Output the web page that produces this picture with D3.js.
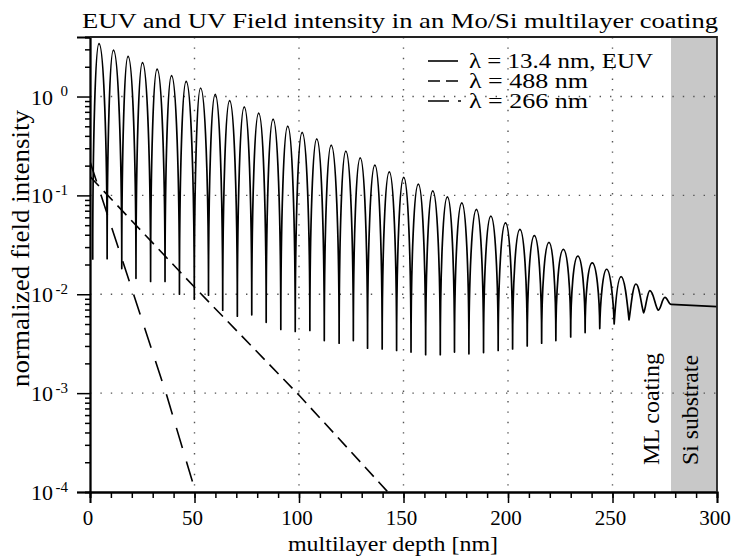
<!DOCTYPE html>
<html>
<head>
<meta charset="utf-8">
<script src="https://cdn.jsdelivr.net/npm/d3@7"></script>
<style>
  body { margin: 0; background: #fff; }
  svg text { font-family: "Liberation Serif", "Times New Roman", serif; fill: #000; }
</style>
</head>
<body>
<div id="chart"></div>
<script>
// EUV (13.4 nm) standing wave: maxima and minima
const peakDepth = [4.3, 11.2, 18.2, 25.1, 32.1, 39.0, 46.0, 52.9, 59.9, 66.8,
  73.8, 80.7, 87.6, 94.6, 101.5, 108.5, 115.4, 122.4, 129.3, 136.3,
  143.2, 150.1, 157.1, 164.0, 171.0, 177.9, 184.9, 191.8, 198.8, 205.7,
  212.6, 219.6, 226.5, 233.4, 240.3, 247.2, 254.1, 261.2, 267.9, 275.1];
const peakIntensity = [3.43, 2.94, 2.55, 2.20, 1.89, 1.63, 1.42, 1.22, 1.05, 0.91,
  0.785, 0.678, 0.590, 0.501, 0.433, 0.373, 0.322, 0.280, 0.240, 0.202,
  0.173, 0.152, 0.130, 0.111, 0.0968, 0.0841, 0.0723, 0.0618, 0.0528, 0.0454,
  0.0391, 0.0335, 0.0285, 0.0243, 0.0208, 0.0179, 0.0151, 0.0127, 0.0109, 0.0093];
const troughDepth = [1.3, 8.2, 15.2, 22.0, 29.0, 35.9, 42.8, 49.9, 56.7, 63.5,
  70.5, 77.4, 84.3, 91.3, 98.2, 105.2, 112.1, 119.2, 126.0, 132.8,
  139.8, 146.7, 153.6, 160.6, 167.6, 174.4, 181.3, 188.3, 195.3, 202.2,
  209.2, 216.1, 222.9, 230.0, 236.9, 243.9, 250.8, 257.9, 264.9, 271.9];
const troughIntensity = [0.0224, 0.0229, 0.0182, 0.0145, 0.0135, 0.0135, 0.0100, 0.0089, 0.0098, 0.0069,
  0.0060, 0.0062, 0.0052, 0.0044, 0.0042, 0.0043, 0.0034, 0.0032, 0.0034, 0.00285,
  0.0028, 0.0027, 0.0026, 0.00245, 0.00245, 0.0026, 0.0025, 0.00257, 0.0027, 0.0028,
  0.0030, 0.0032, 0.0034, 0.0037, 0.0041, 0.0045, 0.0050, 0.0055, 0.0065, 0.0069];
// field inside the Si substrate
const substrateDepth = [278, 300];
const substrateIntensity = [0.0079, 0.0075];

// UV lines (straight in log scale)
const uv488Depth = [0, 50.5, 100.5, 142.5];
const uv488Intensity = [0.155, 0.0115, 0.00093, 0.0001];
const uv266Depth = [0, 19.9, 36.7, 50.5];
const uv266Intensity = [0.22, 0.0115, 0.00095, 0.0001];

const depthTicks = [0, 50, 100, 150, 200, 250, 300];
const depthMinorTicks = d3.range(0, 301, 10);
const intensityTicks = [1e-4, 1e-3, 1e-2, 1e-1, 1];
const intensityExponents = ['-4', '-3', '-2', '-1', '0'];

const width = 731, height = 559;
const margin = {top: 37, right: 14, bottom: 67, left: 90};
const serif = '"Liberation Serif", "Times New Roman", serif';

const svg = d3.select('#chart')
  .append('svg')
  .attr('width', width)
  .attr('height', height)
  .attr('font-family', serif);

svg.append('rect').attr('width', width).attr('height', height).attr('fill', '#fff');

const x = d3.scaleLinear().domain([0, 300]).range([margin.left, width - margin.right]);
const y = d3.scaleLog().domain([1e-4, 4]).range([height - margin.bottom, margin.top]);

svg.append('clipPath').attr('id', 'plot')
  .append('rect')
  .attr('x', x(0)).attr('y', y(4))
  .attr('width', x(300) - x(0)).attr('height', y(1e-4) - y(4));

// Si substrate band
svg.append('rect')
  .attr('x', x(substrateDepth[0]))
  .attr('y', y(4))
  .attr('width', x(300) - x(substrateDepth[0]))
  .attr('height', y(1e-4) - y(4))
  .attr('fill', '#c8c8c8');

// dotted grid
const grid = svg.append('g')
  .attr('stroke', '#555')
  .attr('stroke-width', 1.4)
  .attr('stroke-dasharray', '1.4,9');
grid.selectAll('.vgrid')
  .data(depthTicks.slice(1, -1))
  .enter().append('line')
  .attr('x1', d => x(d)).attr('x2', d => x(d))
  .attr('y1', y(4)).attr('y2', y(1e-4));
grid.selectAll('.hgrid')
  .data(intensityTicks.slice(1))
  .enter().append('line')
  .attr('y1', d => y(d)).attr('y2', d => y(d))
  .attr('x1', x(0)).attr('x2', x(300));

// one half-arch between a minimum and a maximum, elliptical when the swing is large
function halfArch(path, x0, y0, x1, y1) {
  const amp = Math.abs(y1 - y0);
  const t = Math.max(0, Math.min(1, 1 - (amp - 10) / 60));
  const dx = x1 - x0, dy = y1 - y0;
  if (y1 < y0) { // going up to a peak
    path.bezierCurveTo(x0 + 0.4 * t * dx, y0 + 0.55 * (1 - t) * dy,
      x1 - (0.55 - 0.15 * t) * dx, y1, x1, y1);
  } else { // coming down to a minimum
    path.bezierCurveTo(x0 + (0.55 - 0.15 * t) * dx, y0,
      x1 - 0.4 * t * dx, y1 - 0.55 * (1 - t) * dy, x1, y1);
  }
}

const euv = d3.path();
euv.moveTo(x(troughDepth[0]), y(troughIntensity[0]));
peakDepth.forEach((d, k) => {
  const px = x(d), py = y(peakIntensity[k]);
  halfArch(euv, x(troughDepth[k]), y(troughIntensity[k]), px, py);
  const nd = k + 1 < troughDepth.length ? troughDepth[k + 1] : substrateDepth[0];
  const ni = k + 1 < troughIntensity.length ? troughIntensity[k + 1] : substrateIntensity[0];
  halfArch(euv, px, py, x(nd), y(ni));
});
euv.lineTo(x(substrateDepth[1]), y(substrateIntensity[1]));

const plot = svg.append('g').attr('clip-path', 'url(#plot)');
plot.append('path')
  .attr('d', euv.toString())
  .attr('fill', 'none')
  .attr('stroke', '#000')
  .attr('stroke-width', 1.7)
  .attr('stroke-linejoin', 'round');

const line = d3.line().x(d => x(d[0])).y(d => y(d[1]));
plot.append('path')
  .attr('d', line(d3.zip(uv488Depth, uv488Intensity)))
  .attr('fill', 'none').attr('stroke', '#000').attr('stroke-width', 1.6)
  .attr('stroke-dasharray', '13,7');
plot.append('path')
  .attr('d', line(d3.zip(uv266Depth, uv266Intensity)))
  .attr('fill', 'none').attr('stroke', '#000').attr('stroke-width', 1.6)
  .attr('stroke-dasharray', '21,14');

// axes
const xMinor = svg.append('g')
  .attr('transform', `translate(0,${y(1e-4)})`)
  .call(d3.axisBottom(x).tickValues(depthMinorTicks).tickSize(6).tickFormat(''));
const xAxis = svg.append('g')
  .attr('transform', `translate(0,${y(1e-4)})`)
  .call(d3.axisBottom(x).tickValues(depthTicks).tickSize(11).tickPadding(6).tickFormat(d3.format('d')));
xAxis.selectAll('text')
  .attr('font-size', 21)
  .attr('x', -2.5)
  .attr('dy', '0.74em');

const minorY = [];
intensityTicks.forEach(base => {
  for (let m = 2; m <= 9; m++) if (base * m <= 4) minorY.push(base * m);
});
const yMinor = svg.append('g')
  .attr('transform', `translate(${x(0)},0)`)
  .call(d3.axisLeft(y).tickValues(minorY).tickSize(5).tickFormat(''));
const yAxis = svg.append('g')
  .attr('transform', `translate(${x(0)},0)`)
  .call(d3.axisLeft(y).tickValues(intensityTicks).tickSize(13).tickFormat(''));

yAxis.selectAll('.tick').each(function(d, i) {
  const g = d3.select(this);
  g.append('text')
    .attr('x', -37).attr('y', 7.5)
    .attr('text-anchor', 'end')
    .attr('font-size', 22)
    .text('10');
  g.append('text')
    .attr('x', -22).attr('y', -1)
    .attr('text-anchor', 'end')
    .attr('font-size', 15)
    .text(intensityExponents[i]);
});

[xMinor, xAxis, yMinor, yAxis].forEach(g => {
  g.attr('font-family', serif);
  g.selectAll('line').attr('stroke', '#000').attr('stroke-width', 1.5);
  g.select('.domain').attr('stroke', '#000').attr('stroke-width', 1.8);
});

// frame top and right
svg.append('path')
  .attr('d', `M${x(0)},${y(4)}H${x(300)}V${y(1e-4)}`)
  .attr('fill', 'none')
  .attr('stroke', '#222')
  .attr('stroke-width', 1.8);

// titles (the original font runs wide, so widths are set from the picture)
function wideText(sel, len) {
  return sel.attr('textLength', len).attr('lengthAdjust', 'spacingAndGlyphs');
}

wideText(svg.append('text')
  .attr('x', 82).attr('y', 28)
  .attr('font-size', 22)
  .text('EUV and UV Field intensity in an Mo/Si multilayer coating'), 636);

wideText(svg.append('text')
  .attr('x', 288).attr('y', 551)
  .attr('font-size', 22)
  .text('multilayer depth [nm]'), 210);

wideText(svg.append('text')
  .attr('transform', 'translate(29,387) rotate(-90)')
  .attr('font-size', 26)
  .text('normalized field intensity'), 277);

wideText(svg.append('text')
  .attr('transform', 'translate(659,465) rotate(-90)')
  .attr('font-size', 23)
  .text('ML coating'), 112);
wideText(svg.append('text')
  .attr('transform', 'translate(698,465) rotate(-90)')
  .attr('font-size', 23)
  .text('Si substrate'), 110);

// legend
const legendLabels = ['\u03bb = 13.4 nm, EUV', '\u03bb = 488 nm', '\u03bb = 266 nm'];
const legendWidths = [184, 119, 119];
const legendDash = [null, '12,6', '21,9,3'];
const legendLength = [30, 30, 33];
const legend = svg.append('g').attr('transform', 'translate(428,61)');
legendLabels.forEach((label, i) => {
  legend.append('line')
    .attr('x1', 0).attr('x2', legendLength[i])
    .attr('y1', i * 20).attr('y2', i * 20)
    .attr('stroke', '#000').attr('stroke-width', 1.6)
    .attr('stroke-dasharray', legendDash[i]);
  wideText(legend.append('text')
    .attr('x', 41).attr('y', i * 20 + 6.5)
    .attr('font-size', 20)
    .text(label), legendWidths[i]);
});
</script>
</body>
</html>
